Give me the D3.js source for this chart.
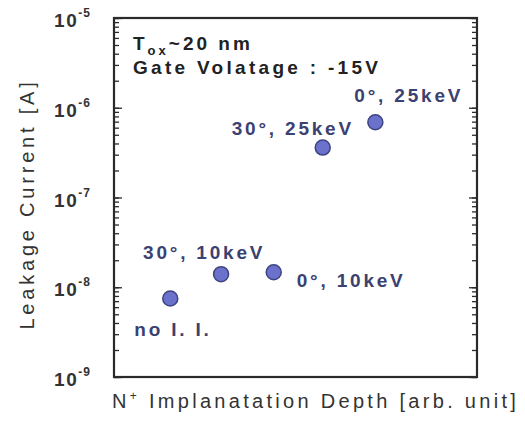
<!DOCTYPE html>
<html>
<head>
<meta charset="utf-8">
<script src="https://cdn.jsdelivr.net/npm/d3@7"></script>
<style>
  body { margin: 0; background: #fff; }
  text { font-family: "Liberation Sans", Arial, sans-serif; }
</style>
</head>
<body>
<div id="chart"></div>
<script>
// data
var labels  = ["no I. I.", "30°, 10keV", "0°, 10keV", "30°, 25keV", "0°, 25keV"];
var depth   = [1.55, 2.95, 4.4, 5.75, 7.2];          // arb. unit
var current = [7.5e-9, 1.4e-8, 1.47e-8, 3.6e-7, 6.9e-7]; // A
var decades = [-9, -8, -7, -6, -5];

// set the dimensions and margins of the graph
var margin = {top: 18, right: 48, bottom: 59, left: 114},
    width = 525 - margin.left - margin.right,
    height = 436 - margin.top - margin.bottom;

var svg = d3.select("#chart")
  .append("svg")
    .attr("width", 525)
    .attr("height", 436)
  .append("g")
    .attr("transform", "translate(" + margin.left + "," + margin.top + ")");

var x = d3.scaleLinear().domain([0, 10]).range([0, width]);
var y = d3.scaleLog().domain([1e-9, 1e-5]).range([height, 0]);

var ink = "#2a2a2a";

// minor + major ticks, inside, left and right
var minor = y.ticks();
function tickAxis(axis, isMajor) {
  return axis.tickValues(isMajor ? decades.map(function(d) { return Math.pow(10, d); }) : minor)
    .tickFormat("").tickSizeOuter(0);
}
svg.append("g").call(tickAxis(d3.axisLeft(y), false).tickSizeInner(-5));
svg.append("g").call(tickAxis(d3.axisLeft(y), true).tickSizeInner(-8));
svg.append("g").attr("transform", "translate(" + width + ",0)")
  .call(tickAxis(d3.axisRight(y), false).tickSizeInner(-5));
svg.append("g").attr("transform", "translate(" + width + ",0)")
  .call(tickAxis(d3.axisRight(y), true).tickSizeInner(-8));
svg.selectAll(".domain").remove();
svg.selectAll(".tick line").attr("stroke", ink).attr("stroke-width", 1.3);

// frame
svg.append("rect")
  .attr("width", width).attr("height", height)
  .attr("fill", "none").attr("stroke", ink).attr("stroke-width", 2.2);

// y tick labels 10^n
var tl = svg.selectAll(".ylab").data(decades).enter().append("text")
  .attr("class", "ylab")
  .attr("x", -60)
  .attr("y", function(d) { return y(Math.pow(10, d)) + 9; })
  .style("font-size", "19px").style("font-weight", "bold")
  .style("letter-spacing", "1.6px")
  .attr("fill", "#333");
tl.append("tspan").text("10");
tl.append("tspan").attr("dy", -10).style("font-size", "12px").style("letter-spacing", "1px")
  .text(function(d) { return "-" + (-d); });

// axis titles
svg.append("text")
  .attr("x", -2)
  .attr("y", height + 31)
  .style("font-size", "20px")
  .style("letter-spacing", "3.3px")
  .attr("fill", "#333")
  .html("N<tspan dy='-8' font-size='12px'>+</tspan><tspan dy='8'> Implanatation Depth [arb. unit]</tspan>");

svg.append("text")
  .attr("transform", "rotate(-90)")
  .attr("x", -(204 - margin.top))
  .attr("y", 27 - margin.left + 7)
  .style("text-anchor", "middle")
  .style("font-size", "20px")
  .style("letter-spacing", "3.8px")
  .attr("fill", "#333")
  .text("Leakage Current [A]");

// annotation
var note = svg.append("text")
  .attr("x", 19).attr("y", 32)
  .style("font-size", "19px").style("font-weight", "bold")
  .style("letter-spacing", "3px")
  .attr("fill", "#222");
note.append("tspan").text("T");
note.append("tspan").attr("dy", 5).style("font-size", "13px").text("ox");
note.append("tspan").attr("dy", -5).text("~20 nm");
svg.append("text")
  .attr("x", 19).attr("y", 56)
  .style("font-size", "19px").style("font-weight", "bold")
  .style("letter-spacing", "3.3px")
  .attr("fill", "#222")
  .text("Gate Volatage : -15V");

// points
var data = depth.map(function(d, i) { return {x: d, y: current[i], label: labels[i]}; });
svg.selectAll("circle").data(data).enter().append("circle")
  .attr("cx", function(d) { return x(d.x); })
  .attr("cy", function(d) { return y(d.y); })
  .attr("r", 7.5)
  .attr("fill", "#6a72cc")
  .attr("stroke", "#3d447f")
  .attr("stroke-width", 1.5);

// point labels, offset from each dot
var off = [[-36, 38], [-78, -15], [23, 15], [-91, -13], [-21, -20]];
svg.selectAll(".plab").data(data).enter().append("text")
  .attr("class", "plab")
  .attr("x", function(d, i) { return x(d.x) + off[i][0]; })
  .attr("y", function(d, i) { return y(d.y) + off[i][1]; })
  .style("font-size", "19px").style("font-weight", "bold")
  .style("letter-spacing", "2.8px")
  .attr("fill", "#3b4170")
  .text(function(d) { return d.label; });
</script>
</body>
</html>
